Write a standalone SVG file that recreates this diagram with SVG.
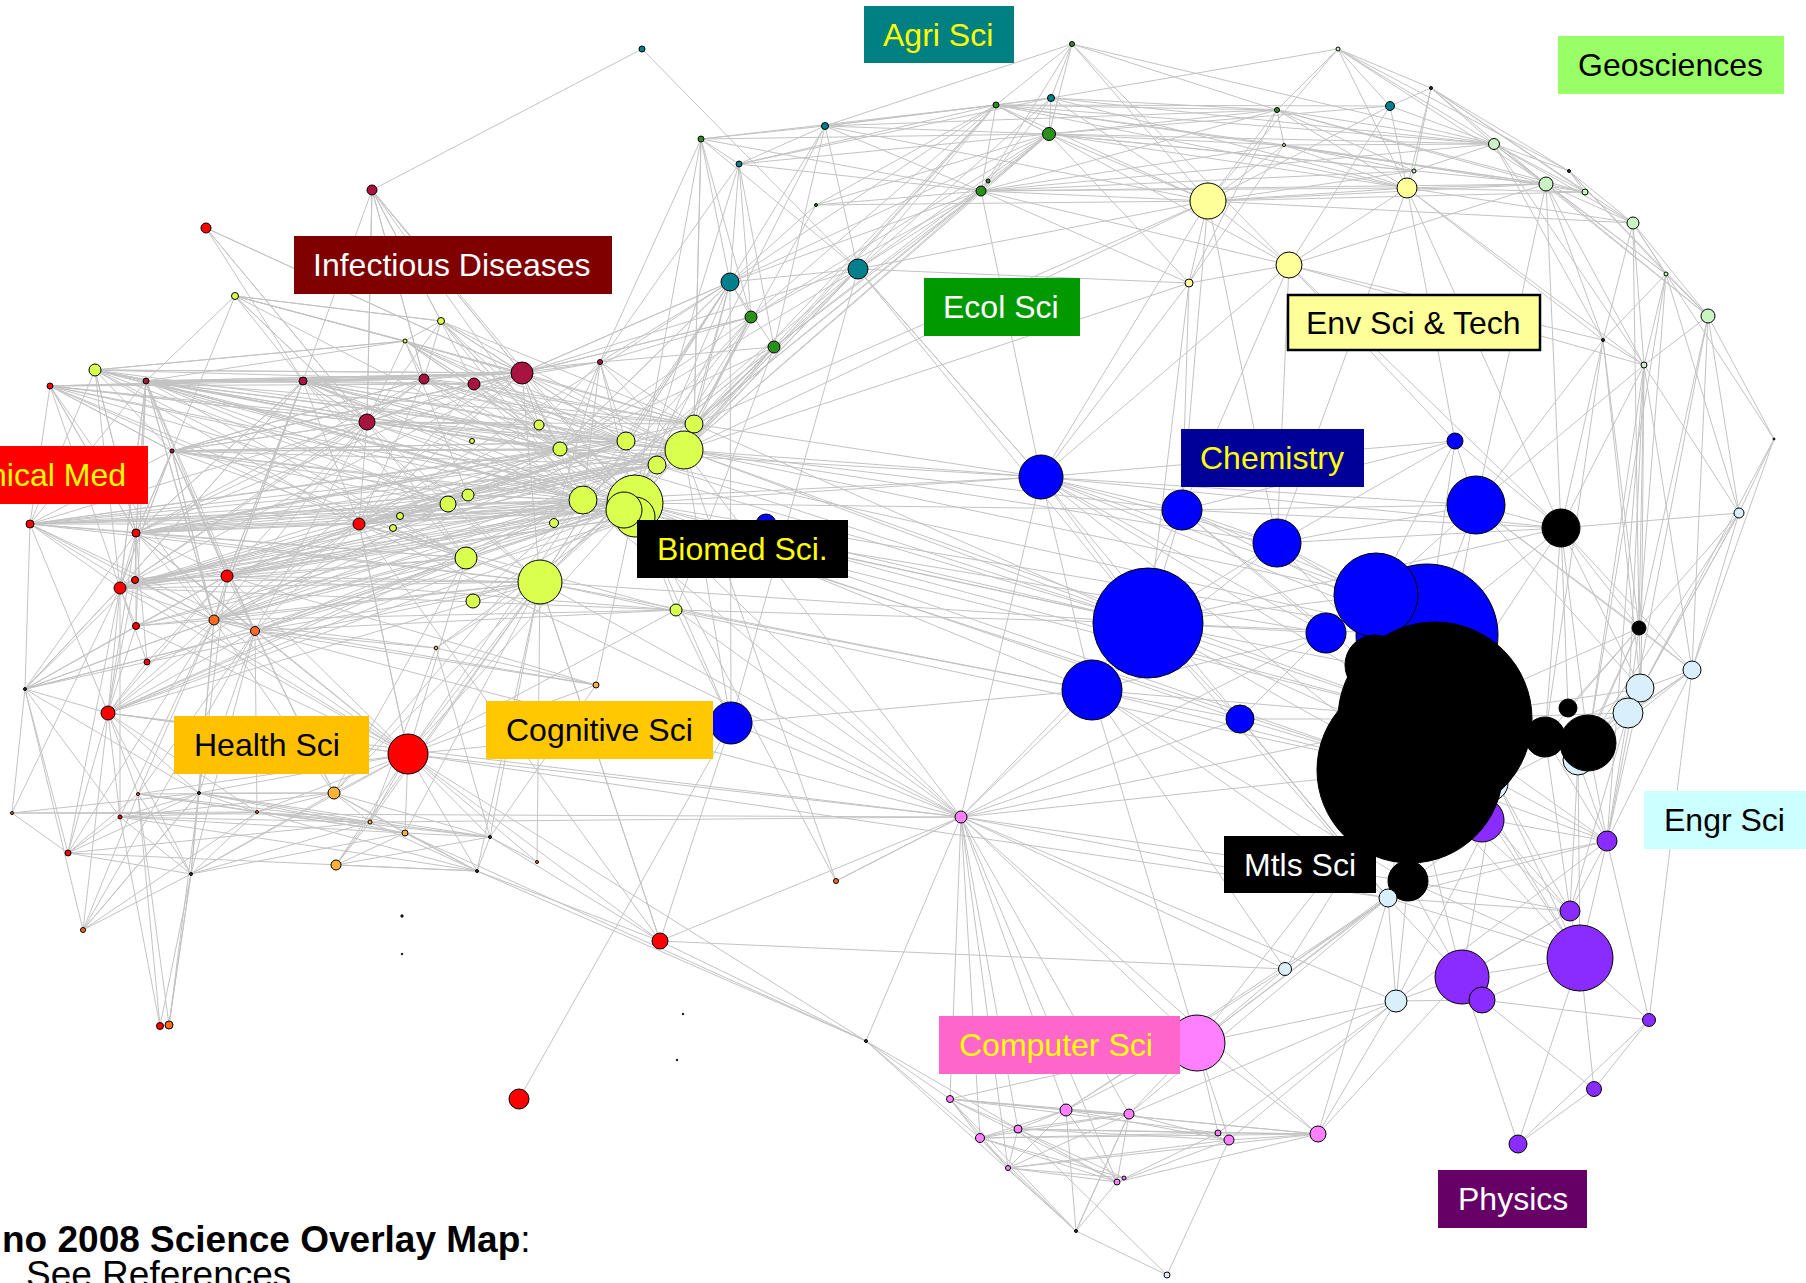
<svg xmlns="http://www.w3.org/2000/svg" width="1806" height="1283" viewBox="0 0 1806 1283">
<style>
.e{fill:none;stroke:#c3c3c3;stroke-width:1;stroke-linejoin:round}
circle{stroke:#000;stroke-width:1}
.y{fill:#d9ff4f}.mr{fill:#a8143f}.r{fill:#f00}.o{fill:#ff6a21}.gd{fill:#ffb238}.t{fill:#00808c}.g{fill:#2b8f1c}
.ly{fill:#ffff99}.lg{fill:#c8f5c2}.b{fill:#00f}.k{fill:#000}.lb{fill:#d9f0fc}.p{fill:#8a2cff}.pk{fill:#ff80ff}.d{fill:#333}
.lbl text{font-family:"Liberation Sans",Arial,sans-serif;font-size:32px}
.cap{font-family:"Liberation Sans",Arial,sans-serif;font-size:37px;fill:#000}
</style>
<rect width="1806" height="1283" fill="#fff"/>

<!-- edges of the co-citation network, one path per hub -->
<g id="connectors" class="e">
<path id="e-n27" d="M372 190L635 503 95 370M50 386L635 503 146 381M303 381L635 503 424 379M474 384L635 503 522 373M600 362L635 503 367 422M172 451L635 503 539 425M560 449L635 503 468 495M448 504L635 503 400 516M393 528L635 503 359 524M30 524L635 503 136 533M227 576L635 503 135 580M120 588L635 503 136 626M214 620L635 503 255 631M147 662L635 503 108 713M408 754L635 503 466 558M473 601L635 503 676 610M436 648L635 503 596 685M730 282L635 503 858 269M751 317L635 503 774 347M701 139L635 503 739 164M825 126L635 503 1041 477M1148 623L635 503 1092 690M1182 510L635 503 961 817M731 723L635 503 441 321M235 296L635 503 405 341M1435 719L635 503 1427 635M836 881L635 503 1410 770"/>
<path id="e-n22" d="M146 381L684 450 303 381M424 379L684 450 474 384M522 373L684 450 367 422M359 524L684 450 136 533M227 576L684 450 120 588M214 620L684 450 448 504M468 495L684 450 466 558M540 582L684 450 730 282M858 269L684 450 751 317M774 347L684 450 996 105M981 191L684 450 1049 134M1041 477L684 450 1148 623M1277 543L684 450 1182 510M600 362L684 450 441 321M405 341L684 450 30 524M1208 201L684 450 1435 719M1376 595L684 450 172 451M50 386L684 450 836 881L961 817"/>
<path id="e-n26" d="M95 370L583 500 146 381M303 381L583 500 367 422M359 524L583 500 30 524M136 533L583 500 227 576M135 580L583 500 120 588M136 626L583 500 214 620M255 631L583 500 108 713M408 754L583 500 334 793M172 451L583 500 50 386M468 495L583 500 448 504M466 558L583 500 473 601M522 373L583 500 474 384M730 282L583 500 774 347M1148 623L583 500 1041 477M1410 770L583 500"/>
<path id="e-n35" d="M359 524L540 582 227 576M120 588L540 582 214 620M255 631L540 582 108 713M408 754L540 582 334 793M370 822L540 582 405 833M336 865L540 582 436 648M135 580L540 582 136 626M136 533L540 582 30 524M147 662L540 582 172 451M367 422L540 582 303 381M522 373L540 582 490 837M477 871L540 582 1148 623M1092 690L540 582 1410 770M774 347L540 582 730 282M660 941L540 582"/>
<path id="e-n34" d="M359 524L466 558 227 576M214 620L466 558 255 631M108 713L466 558 408 754M334 793L466 558 120 588M136 533L466 558 30 524M367 422L466 558 303 381M146 381L466 558 50 386M95 370L466 558"/>
<path id="e-n33" d="M95 370L359 524 50 386M30 524L359 524 136 533M120 588L359 524 227 576M214 620L359 524 255 631M367 422L359 524 303 381M522 373L359 524 474 384M424 379L359 524 560 449M626 441L359 524 694 424M448 504L359 524 468 495M108 713L359 524 408 754M657 465L359 524 624 510M539 425L359 524"/>
<path id="e-n13" d="M146 381L522 373 303 381M424 379L522 373 474 384M367 422L522 373 95 370M50 386L522 373 172 451M560 449L522 373 626 441M694 424L522 373 539 425M600 362L522 373 730 282M751 317L522 373 441 321M405 341L522 373 235 296M206 228L522 373 372 190M136 533L522 373 120 588M214 620L522 373"/>
<path id="e-n15" d="M95 370L367 422 50 386M146 381L367 422 303 381M424 379L367 422 474 384M172 451L367 422 30 524M136 533L367 422 120 588M214 620L367 422 560 449M626 441L367 422 694 424M657 465L367 422 539 425M441 321L367 422 405 341M206 228L367 422 235 296M372 190L367 422 255 631M227 576L367 422"/>
<path id="e-n11" d="M146 381L424 379 303 381M474 384L424 379 95 370M405 341L424 379 441 321M560 449L424 379 626 441M694 424L424 379 657 465M583 500L424 379 372 190M136 533L424 379 120 588M172 451L424 379"/>
<path id="e-n6" d="M95 370L405 341 235 296M441 321L405 341 146 381M560 449L405 341 626 441M694 424L405 341 474 384M657 465L405 341 539 425M468 495L405 341"/>
<path id="e-n5" d="M235 296L441 321 560 449M626 441L441 321 694 424M583 500L441 321 539 425M372 190L441 321"/>
<path id="e-n14" d="M730 282L600 362 751 317M774 347L600 362 701 139M739 164L600 362 560 449M626 441L600 362 694 424M583 500L600 362 539 425M554 523L600 362 474 384M424 379L600 362"/>
<path id="e-n20" d="M146 381L626 441 303 381M474 384L626 441 172 451M468 495L626 441 448 504M400 516L626 441 30 524M136 533L626 441 120 588M95 370L626 441 227 576M214 620L626 441"/>
<path id="e-n21" d="M730 282L694 424 858 269M751 317L694 424 774 347M1049 134L694 424 981 191M996 105L694 424 474 384M1041 477L694 424 1148 623M1208 201L694 424 146 381M303 381L694 424 136 533M701 139L694 424"/>
<path id="e-n23" d="M146 381L657 465 303 381M468 495L657 465 448 504M120 588L657 465 136 533M367 422L657 465 172 451M1148 623L657 465 1427 635M30 524L657 465"/>
<path id="e-n19" d="M146 381L560 449 303 381M172 451L560 449 30 524M136 533L560 449 227 576M120 588L560 449 214 620M1041 477L560 449 1148 623M730 282L560 449"/>
<path id="e-n29" d="M146 381L624 510 303 381M136 533L624 510 120 588M214 620L624 510 1148 623M1240 719L624 510 30 524M227 576L624 510"/>
<path id="e-n28" d="M1435 719L637 517 1326 633M227 576L637 517 120 588M255 631L637 517 108 713"/>
<path id="e-n24" d="M146 381L468 495 30 524M136 533L468 495 120 588M172 451L468 495 214 620M146 381L448 504 30 524M136 533L448 504 120 588M172 451L448 504 95 370M50 386L448 504"/>
<path id="e-n37" d="M1148 623L676 610 1092 690M214 620L676 610 227 576M255 631L676 610 408 754M120 588L676 610 359 524M961 817L676 610"/>
<path id="e-n38" d="M172 451L30 524 136 533M120 588L30 524 25 689M146 381L30 524 214 620M108 713L30 524 50 386M95 370L30 524 255 631"/>
<path id="e-n39" d="M146 381L136 533 172 451M120 588L136 533 135 580M136 626L136 533 214 620M255 631L136 533 147 662M227 576L136 533 95 370M50 386L136 533 303 381"/>
<path id="e-n42" d="M135 580L120 588 136 626M214 620L120 588 25 689M147 662L120 588 108 713M68 853L120 588 120 817M12 813L120 588 146 381M172 451L120 588 303 381"/>
<path id="e-n44" d="M227 576L214 620 255 631M25 689L214 620 108 713M199 793L214 620 138 794M120 817L214 620 191 874M68 853L214 620 172 451M146 381L214 620 50 386M303 381L214 620 135 580M136 626L214 620"/>
<path id="e-n45" d="M108 713L255 631 199 793M257 812L255 631 191 874M146 381L255 631 172 451M136 533L255 631 138 794M25 689L255 631"/>
<path id="e-n49" d="M108 713L25 689 120 588M136 626L25 689 214 620M12 813L25 689 68 853M120 817L25 689 83 930M136 533L25 689 147 662M227 576L25 689 135 580M255 631L25 689 199 793"/>
<path id="e-n50" d="M120 817L108 713 199 793M138 794L108 713 257 812M68 853L108 713 191 874M83 930L108 713 136 533M227 576L108 713 135 580M136 626L108 713 147 662M408 754L108 713"/>
<path id="e-n40" d="M135 580L227 576 136 626M147 662L227 576 146 381M172 451L227 576 303 381M199 793L227 576"/>
<path id="e-n51" d="M334 793L408 754 370 822M405 833L408 754 490 837M477 871L408 754 336 865M199 793L408 754 257 812M191 874L408 754 214 620M255 631L408 754 227 576M108 713L408 754 136 626M138 794L408 754 120 588M136 533L408 754 359 524M30 524L408 754 961 817M660 941L408 754 1388 898M866 1041L408 754"/>
<path id="e-n52" d="M370 822L334 793 405 833M257 812L334 793 490 837M199 793L334 793 138 794M120 817L334 793 191 874M477 871L334 793 227 576M255 631L334 793 214 620"/>
<path id="e-n53" d="M12 813L199 793 120 817M257 812L199 793 191 874M68 853L199 793 370 822M405 833L199 793 490 837M83 930L199 793"/>
<path id="e-n57" d="M138 794L257 812 12 813M120 817L257 812 370 822M405 833L257 812 490 837M191 874L257 812 477 871"/>
<path id="e-low" d="M490 837L405 833 477 871M120 817L405 833 138 794M191 874L405 833 336 865M477 871L490 837 370 822M596 685L490 837 436 648M537 862L490 837 336 865M370 822L477 871 120 817M68 853L477 871 336 865M138 794L191 874 120 817M83 930L191 874 68 853M169 1025L191 874M12 813L68 853 120 817M138 794L68 853M138 794L160 1026 120 817M191 874L160 1026M191 874L169 1025 199 793M138 794L169 1025M199 793L83 930 138 794M255 631L83 930 257 812M138 794L370 822 120 817M191 874L370 822 336 865M68 853L370 822M436 648L596 685 408 754M214 620L596 685 227 576M255 631L596 685M370 822L436 648 214 620M255 631L436 648M408 754L537 862 540 582"/>
<path id="e-n74" d="M730 282L731 723 684 450M961 817L731 723 1092 690M660 941L731 723 519 1099M858 269L731 723 676 610M408 754L731 723"/>
<path id="e-k1" d="M950 1099L961 817 1066 1110M1129 1114L961 817 1018 1129M980 1138L961 817 1008 1168M1117 1182L961 817 1197 1043M866 1041L961 817 1388 898M1410 770L961 817 1435 719M1092 690L961 817 1148 623M1240 719L961 817 684 450M583 500L961 817 540 582M359 524L961 817 1285 969M1041 477L961 817 12 813M108 713L961 817 214 620M370 822L961 817 836 881M660 941L961 817 1318 1134M1408 881L961 817 1396 1001M1326 633L961 817"/>
<path id="e-n70" d="M1285 969L660 941 540 582M359 524L660 941 866 1041M490 837L660 941 477 871M950 1099L866 1041 980 1138M1018 1129L866 1041 405 833M1076 1231L866 1041 477 871"/>
<path id="e-top" d="M372 190L642 49 858 269L1041 477M367 422L372 190 522 373M424 379L372 190 303 381M539 425L372 190 474 384M303 381L206 228 367 422M522 373L206 228M441 321L235 296 367 422M303 381L235 296 172 451M146 381L235 296 405 341M405 341L95 370 146 381M367 422L95 370 522 373M136 533L95 370 120 588M172 451L95 370M424 379L50 386 474 384M367 422L50 386 172 451M136 533L50 386 120 588M522 373L50 386M303 381L146 381 424 379M474 384L146 381 522 373M136 533L146 381 120 588M214 620L146 381 136 626M172 451L146 381M424 379L303 381 474 384M522 373L303 381 367 422M136 533L303 381 214 620M227 576L303 381 120 588M560 449L303 381M50 386L172 451 522 373M367 422L172 451 424 379M474 384L172 451 560 449M626 441L172 451 136 533M120 588L172 451 214 620"/>
<path id="e-agri" d="M825 126L858 269 701 139M996 105L858 269 1049 134M981 191L858 269 1051 98M1208 201L858 269 583 500M560 449L858 269 522 373M730 282L858 269 1041 477M540 582L858 269 1189 283M1148 623L858 269M701 139L730 282 739 164M825 126L730 282 751 317M774 347L730 282 996 105M1049 134L730 282 981 191M626 441L730 282 522 373M560 449L730 282 540 582M359 524L730 282M701 139L751 317 739 164M981 191L751 317 1049 134M694 424L751 317 583 500M522 373L751 317 996 105M540 582L751 317 560 449M739 164L774 347 981 191M1049 134L774 347 996 105M694 424L774 347 583 500M540 582L774 347 676 610M560 449L774 347 825 126M996 105L701 139 1049 134M981 191L701 139 739 164M694 424L701 139 825 126M996 105L739 164 825 126M1051 98L739 164 981 191M1049 134L739 164M996 105L825 126 1051 98M1049 134L825 126 1072 44M981 191L825 126 1277 110M1208 201L825 126M981 191L816 205 1049 134M996 105L816 205 1208 201M694 424L816 205 730 282"/>
<path id="e-ecol" d="M996 105L1072 44 981 191M1049 134L1072 44 1051 98M1208 201L1072 44 1289 265M1277 110L1072 44 1494 144M996 105L1051 98 981 191M1277 110L1051 98 1407 188M1208 201L1051 98 1494 144M1049 134L1051 98 1338 49M981 191L996 105 1049 134M1277 110L996 105 1284 145M1208 201L996 105 1407 188M1289 265L996 105 1494 144M1546 184L996 105 1390 106M981 191L1049 134 1277 110M1284 145L1049 134 1208 201M1407 188L1049 134 1494 144M1546 184L1049 134 1414 171M1390 106L1049 134 1189 283M1277 110L981 191 1284 145M1208 201L981 191 1407 188M1189 283L981 191 1494 144M1546 184L981 191 1414 171M1041 477L981 191 1289 265M1208 201L1390 106 1407 188M1494 144L1390 106 1338 49M1431 88L1390 106 1289 265"/>
<path id="e-env" d="M1431 88L1338 49 1208 201M1277 110L1338 49 1407 188M1494 144L1338 49 1569 171M1546 184L1338 49M1208 201L1277 110 1407 188M1494 144L1277 110 1546 184M1585 192L1277 110 1189 283M1414 171L1277 110 1284 145M1494 144L1431 88 1546 184M1633 223L1431 88 1585 192M1407 188L1431 88 1414 171M1569 171L1431 88M1208 201L1284 145 1407 188M1494 144L1284 145 1546 184M1585 192L1284 145 1414 171M1189 283L1284 145M1407 188L1208 201 1189 283M1289 265L1208 201 1041 477M1546 184L1208 201 1585 192M1414 171L1208 201 1182 510M1277 543L1208 201 1633 223M1546 184L1407 188 1585 192M1633 223L1407 188 1414 171M1289 265L1407 188 1603 340M1277 543L1407 188 1455 441M1644 365L1407 188 1561 528M1189 283L1289 265 1546 184M1455 441L1289 265 1277 543M1182 510L1289 265 1603 340M1561 528L1289 265 1644 365M1041 477L1289 265M1041 477L1189 283 1182 510M1148 623L1189 283 684 450"/>
<path id="e-geo" d="M1546 184L1494 144 1569 171M1585 192L1494 144 1633 223M1666 274L1494 144 1708 316M1603 340L1494 144 1644 365M1414 171L1494 144M1585 192L1546 184 1633 223M1666 274L1546 184 1603 340M1644 365L1546 184 1708 316M1561 528L1546 184 1476 505M1633 223L1569 171 1666 274M1585 192L1569 171 1708 316M1666 274L1633 223 1708 316M1644 365L1633 223 1603 340M1774 439L1633 223 1639 628M1708 316L1666 274 1644 365M1603 340L1666 274 1639 628M1739 513L1666 274 1588 743M1644 365L1708 316 1774 439M1739 513L1708 316 1639 628M1692 670L1708 316 1607 841M1644 365L1603 340 1561 528M1639 628L1603 340 1641 689M1476 505L1603 340 1545 737M1561 528L1644 365 1639 628M1692 670L1644 365 1641 689M1628 713L1644 365 1588 743M1476 505L1644 365 1607 841M1739 513L1644 365M1739 513L1774 439 1692 670M1641 689L1774 439M1692 670L1739 513 1641 689M1628 713L1739 513 1639 628M1588 743L1739 513 1561 528"/>
<path id="e-chem" d="M1182 510L1041 477 1277 543M1148 623L1041 477 1092 690M1476 505L1041 477 1427 635M1376 595L1041 477 1455 441M1435 719L1041 477 1410 770M1326 633L1041 477 1561 528M1388 898L1041 477M1277 543L1182 510 1148 623M1376 595L1182 510 1427 635M1476 505L1182 510 1435 719M1326 633L1182 510 1455 441M1561 528L1182 510 1092 690M1376 595L1277 543 1427 635M1476 505L1277 543 1435 719M1148 623L1277 543 1455 441M1561 528L1277 543 1092 690M1476 505L1455 441 1376 595M1427 635L1455 441 1561 528M1561 528L1476 505 1427 635M1435 719L1476 505 1639 628M1692 670L1476 505 1376 595M1641 689L1476 505M1092 690L1148 623 1326 633M1376 595L1148 623 1427 635M1435 719L1148 623 1410 770M1240 719L1148 623 1388 898M1380 668L1148 623 1561 528M1497 782L1148 623M1240 719L1092 690 1410 770M1435 719L1092 690 1326 633M1388 898L1092 690 1285 969M1197 1043L1092 690 1408 881M1410 770L1240 719 1435 719M1326 633L1240 719 1388 898"/>
<path id="e-mtls" d="M1639 628L1561 528 1435 719M1427 635L1561 528 1692 670M1641 689L1561 528 1588 743M1568 708L1561 528 1545 737M1692 670L1639 628 1641 689M1628 713L1639 628 1588 743M1545 737L1639 628 1568 708M1435 719L1639 628 1578 760M1641 689L1692 670 1628 713M1578 760L1692 670 1588 743M1607 841L1692 670 1649 1020M1628 713L1641 689 1588 743M1578 760L1641 689 1545 737M1607 841L1641 689 1435 719M1607 841L1628 713 1570 911M1435 719L1628 713 1410 770M1497 782L1628 713"/>
<path id="e-phys" d="M1410 770L1607 841 1435 719M1545 737L1607 841 1588 743M1578 760L1607 841 1497 782M1570 911L1607 841 1580 958M1490 820L1607 841 1396 1001M1388 898L1607 841 1408 881M1410 770L1570 911 1408 881M1497 782L1570 911 1490 820M1580 958L1570 911 1462 977M1578 760L1570 911 1545 737M1388 898L1570 911M1408 881L1462 977 1410 770M1388 898L1462 977 1396 1001M1490 820L1462 977 1580 958M1482 1000L1462 977 1570 911M1518 1144L1462 977 1318 1134M1649 1020L1580 958 1482 1000M1490 820L1580 958 1408 881M1410 770L1580 958 1578 760M1497 782L1580 958 1518 1144M1594 1089L1580 958 1388 898M1435 719L1580 958M1594 1089L1649 1020 1482 1000M1607 841L1649 1020 1518 1144M1518 1144L1594 1089 1482 1000M1396 1001L1482 1000"/>
<path id="e-engr" d="M1410 770L1388 898 1408 881M1435 719L1388 898 1490 820M1396 1001L1388 898 1197 1043M1285 969L1388 898 1240 719M1129 1114L1388 898 1066 1110M1318 1134L1388 898 1497 782M1197 1043L1285 969 1408 881M1066 1110L1285 969 1410 770M1197 1043L1396 1001 1318 1134M1229 1140L1396 1001 1218 1133M1129 1114L1396 1001 1408 881M1490 820L1396 1001M1018 1129L1167 1275 1229 1140M1076 1231L1167 1275"/>
<path id="e-comp" d="M1318 1134L1197 1043 1218 1133M1229 1140L1197 1043 1129 1114M1066 1110L1197 1043 1410 770M1408 881L1197 1043 950 1099M1018 1129L950 1099 980 1138M1008 1168L950 1099 1066 1110M1117 1182L950 1099 1218 1133M1318 1134L950 1099 1129 1114M1018 1129L1066 1110 980 1138M1008 1168L1066 1110 1129 1114M1117 1182L1066 1110 1229 1140M1076 1231L1066 1110 1318 1134M1018 1129L1129 1114 980 1138M1008 1168L1129 1114 1117 1182M1229 1140L1129 1114 1076 1231M980 1138L1018 1129 1008 1168M1117 1182L1018 1129 1124 1178M1229 1140L1018 1129 1218 1133M1318 1134L1018 1129M1008 1168L980 1138 1117 1182M1076 1231L980 1138 1218 1133M1124 1178L980 1138M1117 1182L1008 1168 1124 1178M1229 1140L1008 1168 1076 1231M1229 1140L1117 1182 1218 1133M1076 1231L1117 1182 1318 1134M1229 1140L1318 1134 1218 1133M980 1138L1318 1134 1008 1168M950 1099L1076 1231 1129 1114"/>
</g>

<!-- journal categories, sized by count -->
<g id="nodes">
<circle id="n1" class="t" cx="642" cy="49" r="3"/>
<circle id="n2" class="mr" cx="372" cy="190" r="5"/>
<circle id="n3" class="r" cx="206" cy="228" r="5"/>
<circle id="n4" class="y" cx="235" cy="296" r="3.5"/>
<circle id="n5" class="y" cx="441" cy="321" r="3.5"/>
<circle id="n6" class="y" cx="405" cy="341" r="2"/>
<circle id="n7" class="y" cx="95" cy="370" r="6"/>
<circle id="n8" class="r" cx="50" cy="386" r="3"/>
<circle id="n9" class="mr" cx="146" cy="381" r="3"/>
<circle id="n10" class="mr" cx="303" cy="381" r="4"/>
<circle id="n11" class="mr" cx="424" cy="379" r="5"/>
<circle id="n12" class="mr" cx="474" cy="384" r="6"/>
<circle id="n13" class="mr" cx="522" cy="373" r="11"/>
<circle id="n14" class="mr" cx="600" cy="362" r="2.5"/>
<circle id="n15" class="mr" cx="367" cy="422" r="8"/>
<circle id="n16" class="mr" cx="172" cy="451" r="2"/>
<circle id="n17" class="y" cx="539" cy="425" r="5"/>
<circle id="n18" class="y" cx="472" cy="441" r="2.5"/>
<circle id="n19" class="y" cx="560" cy="449" r="7"/>
<circle id="n20" class="y" cx="626" cy="441" r="9"/>
<circle id="n21" class="y" cx="694" cy="424" r="9"/>
<circle id="n22" class="y" cx="684" cy="450" r="19"/>
<circle id="n23" class="y" cx="657" cy="465" r="9"/>
<circle id="n24" class="y" cx="468" cy="495" r="6"/>
<circle id="n25" class="y" cx="448" cy="504" r="8"/>
<circle id="n26" class="y" cx="583" cy="500" r="14"/>
<circle id="n27" class="y" cx="635" cy="503" r="28"/>
<circle id="n28" class="y" cx="635" cy="517" r="20"/>
<circle id="n29" class="y" cx="624" cy="510" r="18"/>
<circle id="n30" class="y" cx="554" cy="523" r="4.5"/>
<circle id="n31" class="y" cx="400" cy="516" r="3.5"/>
<circle id="n32" class="y" cx="393" cy="528" r="3.5"/>
<circle id="n33" class="r" cx="359" cy="524" r="6"/>
<circle id="n34" class="y" cx="466" cy="558" r="11"/>
<circle id="n35" class="y" cx="540" cy="582" r="22"/>
<circle id="n36" class="y" cx="473" cy="601" r="7"/>
<circle id="n37" class="y" cx="676" cy="610" r="6"/>
<circle id="n38" class="r" cx="30" cy="524" r="4"/>
<circle id="n39" class="r" cx="136" cy="533" r="4"/>
<circle id="n40" class="r" cx="227" cy="576" r="6"/>
<circle id="n41" class="r" cx="135" cy="580" r="3.5"/>
<circle id="n42" class="r" cx="120" cy="588" r="6"/>
<circle id="n43" class="r" cx="136" cy="626" r="3.5"/>
<circle id="n44" class="o" cx="214" cy="620" r="5"/>
<circle id="n45" class="o" cx="255" cy="631" r="4.5"/>
<circle id="n46" class="r" cx="147" cy="662" r="3"/>
<circle id="n47" class="gd" cx="436" cy="648" r="1.8"/>
<circle id="n48" class="gd" cx="596" cy="685" r="3"/>
<circle id="n49" class="d" cx="25" cy="689" r="1.5"/>
<circle id="n50" class="r" cx="108" cy="713" r="7"/>
<circle id="n51" class="r" cx="408" cy="754" r="20"/>
<circle id="n52" class="gd" cx="334" cy="793" r="6"/>
<circle id="n53" class="d" cx="199" cy="793" r="1.5"/>
<circle id="n54" class="o" cx="138" cy="794" r="1.5"/>
<circle id="n55" class="o" cx="12" cy="813" r="1.5"/>
<circle id="n56" class="r" cx="120" cy="817" r="2"/>
<circle id="n57" class="o" cx="257" cy="812" r="1.5"/>
<circle id="n58" class="gd" cx="370" cy="822" r="2"/>
<circle id="n59" class="gd" cx="405" cy="833" r="3"/>
<circle id="n60" class="d" cx="490" cy="837" r="1.5"/>
<circle id="n61" class="r" cx="68" cy="853" r="3"/>
<circle id="n62" class="d" cx="191" cy="874" r="1.5"/>
<circle id="n63" class="gd" cx="336" cy="865" r="5"/>
<circle id="n64" class="d" cx="477" cy="871" r="1.5"/>
<circle id="n65" class="o" cx="83" cy="930" r="2.5"/>
<circle id="n66" class="d" cx="402" cy="916" r="1.2"/>
<circle id="n67" class="d" cx="402" cy="954" r="0.8"/>
<circle id="n68" class="r" cx="160" cy="1026" r="3.5"/>
<circle id="n69" class="o" cx="169" cy="1025" r="4"/>
<circle id="n70" class="r" cx="660" cy="941" r="8"/>
<circle id="n71" class="r" cx="519" cy="1099" r="10"/>
<circle id="n72" class="o" cx="836" cy="881" r="2.5"/>
<circle id="n73" class="o" cx="537" cy="862" r="1.5"/>
<circle id="n74" class="b" cx="731" cy="723" r="21"/>
<circle id="n75" class="b" cx="766" cy="524" r="10"/>
<circle id="n76" class="d" cx="683" cy="1014" r="0.8"/>
<circle id="n76b" class="d" cx="677" cy="1060" r="0.8"/>
<circle id="n77" class="d" cx="866" cy="1041" r="1.5"/>
<circle id="a1" class="g" cx="701" cy="139" r="3"/>
<circle id="a2" class="t" cx="739" cy="164" r="3"/>
<circle id="a3" class="t" cx="825" cy="126" r="3.5"/>
<circle id="a4" class="g" cx="816" cy="205" r="1.5"/>
<circle id="a5" class="t" cx="730" cy="282" r="9"/>
<circle id="a6" class="t" cx="858" cy="269" r="10"/>
<circle id="a7" class="g" cx="751" cy="317" r="6"/>
<circle id="a8" class="g" cx="774" cy="347" r="6"/>
<circle id="a9" class="g" cx="1072" cy="44" r="2.5"/>
<circle id="a10" class="t" cx="1051" cy="98" r="3.5"/>
<circle id="a11" class="g" cx="996" cy="105" r="3"/>
<circle id="a12" class="g" cx="1049" cy="134" r="6.5"/>
<circle id="a13" class="g" cx="988" cy="181" r="2"/>
<circle id="a14" class="g" cx="981" cy="191" r="5"/>
<circle id="a15" class="t" cx="1390" cy="106" r="4.5"/>
<circle id="e1" class="lg" cx="1338" cy="49" r="2"/>
<circle id="e2" class="g" cx="1277" cy="110" r="2.5"/>
<circle id="e3" class="d" cx="1431" cy="88" r="1.5"/>
<circle id="e4" class="ly" cx="1284" cy="145" r="1.5"/>
<circle id="e5" class="ly" cx="1208" cy="201" r="18"/>
<circle id="e6" class="ly" cx="1407" cy="188" r="10"/>
<circle id="e7" class="ly" cx="1289" cy="265" r="13"/>
<circle id="e8" class="ly" cx="1189" cy="283" r="4"/>
<circle id="e9" class="lg" cx="1414" cy="171" r="2"/>
<circle id="g1" class="lg" cx="1494" cy="144" r="5.5"/>
<circle id="g2" class="lg" cx="1546" cy="184" r="7"/>
<circle id="g3" class="d" cx="1569" cy="171" r="1.5"/>
<circle id="g4" class="lg" cx="1585" cy="192" r="3"/>
<circle id="g5" class="lg" cx="1633" cy="223" r="6"/>
<circle id="g6" class="lg" cx="1666" cy="274" r="2"/>
<circle id="g7" class="lg" cx="1708" cy="316" r="7"/>
<circle id="g8" class="d" cx="1603" cy="340" r="1.5"/>
<circle id="g9" class="lg" cx="1644" cy="365" r="3"/>
<circle id="g10" class="d" cx="1774" cy="439" r="1"/>
<circle id="g11" class="lb" cx="1739" cy="513" r="5"/>
<circle id="c1" class="b" cx="1041" cy="477" r="22"/>
<circle id="c2" class="b" cx="1182" cy="510" r="20"/>
<circle id="c3" class="b" cx="1277" cy="543" r="24"/>
<circle id="c4" class="b" cx="1455" cy="441" r="8"/>
<circle id="c5" class="b" cx="1476" cy="505" r="29"/>
<circle id="c6" class="b" cx="1148" cy="623" r="55"/>
<circle id="c7" class="b" cx="1092" cy="690" r="30"/>
<circle id="c8" class="b" cx="1427" cy="635" r="71"/>
<circle id="c9" class="b" cx="1376" cy="595" r="42"/>
<circle id="c10" class="b" cx="1326" cy="633" r="20"/>
<circle id="c11" class="b" cx="1240" cy="719" r="14"/>
<circle id="l5" class="lb" cx="1490" cy="783" r="18"/>
<circle id="p1" class="p" cx="1482" cy="820" r="22"/>
<circle id="l4" class="lb" cx="1578" cy="760" r="15"/>
<circle id="m1" class="k" cx="1561" cy="528" r="19"/>
<circle id="m2" class="k" cx="1639" cy="628" r="7"/>
<circle id="m3" class="k" cx="1568" cy="708" r="9"/>
<circle id="m4" class="k" cx="1545" cy="737" r="20"/>
<circle id="m5" class="k" cx="1588" cy="743" r="28"/>
<circle id="m6" class="k" cx="1435" cy="719" r="97"/>
<circle id="m7" class="k" cx="1410" cy="770" r="93"/>
<circle id="m8" class="k" cx="1375" cy="665" r="30"/>
<circle id="m9" class="k" cx="1408" cy="881" r="20"/>
<circle id="l1" class="lb" cx="1692" cy="670" r="9"/>
<circle id="l2" class="lb" cx="1640" cy="688" r="14"/>
<circle id="l3" class="lb" cx="1628" cy="713" r="15"/>
<circle id="l6" class="lb" cx="1388" cy="898" r="9"/>
<circle id="l7" class="lb" cx="1285" cy="969" r="6.5"/>
<circle id="l8" class="lb" cx="1396" cy="1001" r="11"/>
<circle id="l9" class="lb" cx="1167" cy="1275" r="3"/>
<circle id="p2" class="p" cx="1607" cy="841" r="10"/>
<circle id="p3" class="p" cx="1570" cy="911" r="10"/>
<circle id="p4" class="p" cx="1462" cy="977" r="27"/>
<circle id="p5" class="p" cx="1482" cy="1000" r="13"/>
<circle id="p6" class="p" cx="1580" cy="958" r="33"/>
<circle id="p7" class="p" cx="1649" cy="1020" r="6.5"/>
<circle id="p8" class="p" cx="1594" cy="1089" r="7.5"/>
<circle id="p9" class="p" cx="1518" cy="1144" r="9"/>
<circle id="k1" class="pk" cx="961" cy="817" r="6"/>
<circle id="k2" class="pk" cx="1197" cy="1043" r="28"/>
<circle id="k3" class="pk" cx="950" cy="1099" r="3.5"/>
<circle id="k4" class="pk" cx="1066" cy="1110" r="6"/>
<circle id="k5" class="pk" cx="1129" cy="1114" r="5"/>
<circle id="k6" class="pk" cx="1018" cy="1129" r="4"/>
<circle id="k7" class="pk" cx="980" cy="1138" r="4.5"/>
<circle id="k8" class="pk" cx="1008" cy="1168" r="2.5"/>
<circle id="k9" class="pk" cx="1117" cy="1182" r="3"/>
<circle id="k10" class="pk" cx="1124" cy="1178" r="2"/>
<circle id="k11" class="pk" cx="1218" cy="1133" r="3"/>
<circle id="k12" class="pk" cx="1229" cy="1140" r="5"/>
<circle id="k13" class="pk" cx="1318" cy="1134" r="8"/>
<circle id="k14" class="d" cx="1076" cy="1231" r="1.5"/>
</g>

<!-- discipline labels -->
<g id="labels" class="lbl">
<g id="lbl-agri"><rect x="864" y="6" width="150" height="57" fill="#008080"/><text x="883" y="46" fill="#ff0">Agri Sci</text></g>
<g id="lbl-geo"><rect x="1558" y="36" width="226" height="58" fill="#99ff66"/><text x="1578" y="76" fill="#000">Geosciences</text></g>
<g id="lbl-infect"><rect x="294" y="236" width="318" height="58" fill="#800000"/><text x="313" y="276" fill="#fff">Infectious Diseases</text></g>
<g id="lbl-ecol"><rect x="924" y="278" width="156" height="58" fill="#009900"/><text x="943" y="318" fill="#fff">Ecol Sci</text></g>
<g id="lbl-env"><rect x="1288" y="295" width="252" height="55" fill="#ffff99" stroke="#000" stroke-width="2.5"/><text x="1306" y="334" fill="#000">Env Sci &amp; Tech</text></g>
<g id="lbl-chem"><rect x="1181" y="429" width="183" height="58" fill="#000099"/><text x="1200" y="469" fill="#ff0">Chemistry</text></g>
<g id="lbl-clin"><rect x="0" y="446" width="148" height="58" fill="#f00"/><text x="126" y="486" fill="#ff0" text-anchor="end">nical Med</text></g>
<g id="lbl-biomed"><rect x="637" y="520" width="211" height="58" fill="#000"/><text x="657" y="560" fill="#ff0">Biomed Sci.</text></g>
<g id="lbl-health"><rect x="174" y="716" width="195" height="58" fill="#ffc000"/><text x="194" y="756" fill="#000">Health Sci</text></g>
<g id="lbl-cog"><rect x="486" y="701" width="227" height="58" fill="#ffc800"/><text x="506" y="741" fill="#000">Cognitive Sci</text></g>
<g id="lbl-mtls"><rect x="1224" y="836" width="152" height="57" fill="#000"/><text x="1244" y="876" fill="#fff">Mtls Sci</text></g>
<g id="lbl-engr"><rect x="1644" y="791" width="162" height="58" fill="#ccffff"/><text x="1664" y="831" fill="#000">Engr Sci</text></g>
<g id="lbl-comp"><rect x="939" y="1016" width="241" height="58" fill="#ff66cc"/><text x="959" y="1056" fill="#ff0">Computer Sci</text></g>
<g id="lbl-phys"><rect x="1438" y="1170" width="149" height="58" fill="#660066"/><text x="1458" y="1210" fill="#fff">Physics</text></g>
</g>

<g id="caption">
<text class="cap" x="2" y="1252" font-weight="bold">no 2008 Science Overlay Map<tspan font-weight="normal">:</tspan></text>
<text class="cap" x="26" y="1287">See References</text>
</g>
</svg>
